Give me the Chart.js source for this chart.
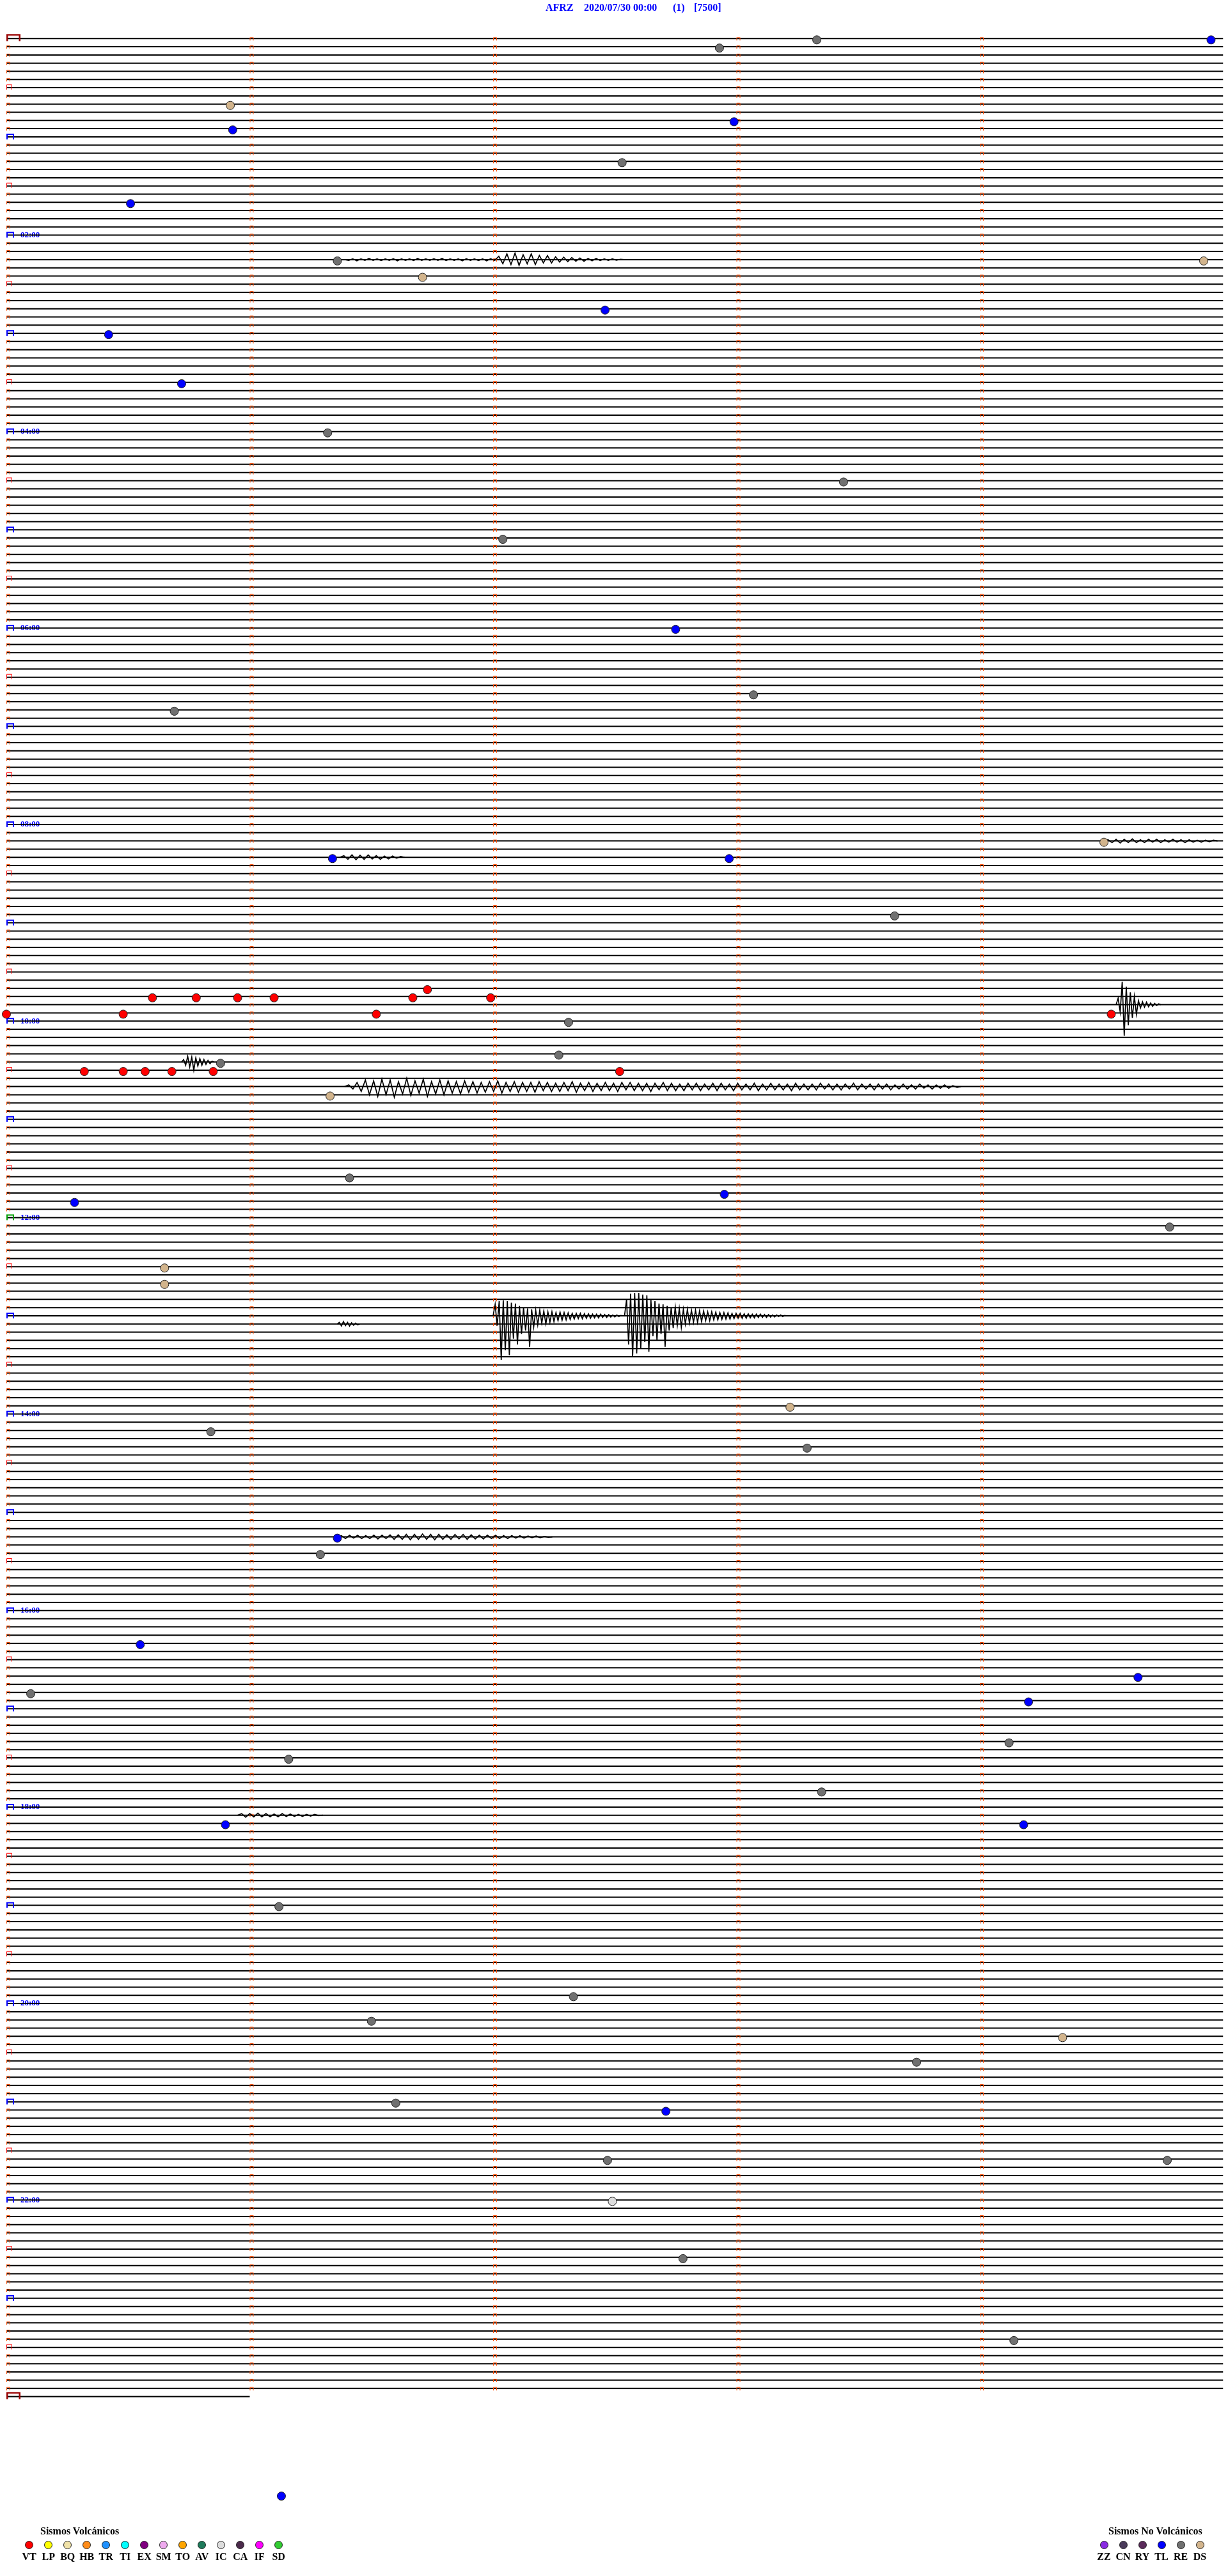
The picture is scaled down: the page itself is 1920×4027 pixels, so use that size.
<!DOCTYPE html>
<html>
<head>
<meta charset="utf-8">
<script src="https://cdn.jsdelivr.net/npm/chart.js@4.4.1/dist/chart.umd.min.js"></script>
<style>
  html, body { margin: 0; padding: 0; background: #fff; }
  #wrap { position: relative; width: 1920px; height: 4027px; overflow: hidden; }
  #heli { position: absolute; left: 0; top: 0; }
  .txt { position: absolute; font-family: "Liberation Serif", "Times New Roman", serif; font-weight: bold;
         font-size: 16px; line-height: 16px; white-space: nowrap; color: #000; }
  .head { color: #0000ff; }
  .lab { width: 30px; text-align: center; }
  .dot { position: absolute; width: 11px; height: 11px; border-radius: 50%; border: 1px solid #222; }
</style>
</head>
<body>
<div id="wrap">
  <canvas id="heli" width="1920" height="4027"></canvas>
</div>
<script>
// Header
const stationName = 'AFRZ';
const plotStart = '2020/07/30 00:00';
const plotGain = '(1)';
const plotScale = '[7500]';

// Helicorder layout: 5 minutes per trace, 00:00 to 24:01
const minutesPerLine = 5;
const recordMinutes = 1441;
const hourLabelMinutes = [120, 240, 360, 480, 600, 720, 840, 960, 1080, 1200, 1320];
const hourLabels = ['02:00', '04:00', '06:00', '08:00', '10:00', '12:00', '14:00', '16:00', '18:00', '20:00', '22:00'];

// Classified events (minutes after 00:00) and their type
const eventMinutes = [
  3.33, 4.95, 7.93, 40.92, 55.93, 52.99, 77.53, 100.51, 136.36, 139.92,
  146.71, 167.46, 180.42, 210.72, 241.32, 273.44, 307.04, 362.75, 403.07, 410.69,
  494.51, 501.34, 502.97, 538.65, 581.73, 585.60, 585.78, 585.95, 586.10, 586.67,
  586.99, 595.00, 595.48, 596.52, 599.54, 602.31, 622.27, 625.88, 630.32, 630.48,
  630.57, 630.68, 630.85, 632.52, 646.33, 696.41, 707.95, 710.28, 729.78, 750.65,
  760.65, 838.22, 850.84, 863.29, 916.36, 926.29, 980.55, 1004.65, 1010.10, 1019.20,
  1044.12, 1051.16, 1073.35, 1090.90, 1094.18, 1141.12, 1197.33, 1211.50, 1224.34, 1238.74,
  1261.60, 1267.71, 1297.47, 1299.77, 1322.49, 1357.78, 1409.14, 1501.13
];
const eventTypes = [
  'RE', 'TL', 'RE', 'DS', 'TL', 'TL', 'RE', 'TL', 'RE', 'DS',
  'DS', 'TL', 'TL', 'TL', 'RE', 'RE', 'RE', 'TL', 'RE', 'RE',
  'DS', 'TL', 'TL', 'RE', 'VT', 'VT', 'VT', 'VT', 'VT', 'VT',
  'VT', 'VT', 'VT', 'VT', 'VT', 'RE', 'RE', 'RE', 'VT', 'VT',
  'VT', 'VT', 'VT', 'VT', 'DS', 'RE', 'TL', 'TL', 'RE', 'DS',
  'DS', 'DS', 'RE', 'RE', 'TL', 'RE', 'TL', 'TL', 'RE', 'TL',
  'RE', 'RE', 'RE', 'TL', 'TL', 'RE', 'RE', 'RE', 'DS', 'RE',
  'RE', 'TL', 'RE', 'RE', 'IC', 'RE', 'RE', 'TL'
];

const waveL027 = [0, 0.1, -0.1, 0.15, -0.1, 0.1, -0.15, 0.1, -0.1, 0.12, -0.1, 0.1, -0.12, 0.15, -0.1, 0.1, -0.1, 0.12, -0.15, 0.1,
  -0.1, 0.1, -0.12, 0.1, -0.15, 0.12, -0.1, 0.1, -0.1, 0.15, -0.12, 0.1, -0.1, 0.12, -0.1, 0.15, -0.12, 0.1,
  -0.4, 0.5, -0.7, 0.6, -0.8, 0.7, -0.6, 0.5, -0.7, 0.6, -0.5, 0.4, -0.5, 0.4, -0.35,
  0.3, -0.3, 0.25, -0.25, 0.2, -0.2, 0.2, -0.15, 0.15, -0.15, 0.12, -0.1, 0.1, -0.1, 0.08, -0.05, 0];
const waveL098 = [0, -0.15, 0.2, -0.2, 0.25, -0.2, 0.2, -0.25, 0.2, -0.15, 0.2, -0.2, 0.15, -0.2, 0.2, -0.15, 0.15, -0.2, 0.15, -0.15,
  0.2, -0.15, 0.15, -0.1, 0.15, -0.1, 0.1, -0.1, 0];
const waveL100 = [0, -0.2, 0.25, -0.3, 0.3, -0.25, 0.25, -0.3, 0.2, -0.2, 0.25, -0.15, 0.2, -0.15, 0.1, -0.1, 0];
const waveL118 = [0, -0.8, 0.9, -2.8, 3.8, -2.2, 2.5, -1.5, 1.6, -1.0, 1.2, -0.5, 0.4, -0.35, 0.3, -0.3, 0.25, -0.2, 0.2, -0.15,
  0.1, -0.1, 0];
const waveL125 = [0, -0.3, 0.4, -0.7, 0.6, -0.6, 1.0, -0.5, 0.5, -0.4, 0.4, -0.3, 0.3, -0.2, 0.2, -0.1, 0];
const waveL128 = [0, -0.2, 0.3, -0.5, 0.6, -0.8, 1.0, -0.7, 1.2, -0.9, 1.0, -0.8, 1.3, -0.6, 0.9, -1.0, 1.1, -0.7, 0.8, -0.9,
  1.2, -0.6, 0.9, -0.8, 1.0, -0.7, 0.8, -0.6, 0.9, -0.7, 0.7, -0.6, 0.8, -0.5, 0.7, -0.6, 0.6, -0.7, 0.8, -0.5,
  0.6, -0.6, 0.7, -0.5, 0.6, -0.5, 0.7, -0.6, 0.5, -0.5, 0.6, -0.4, 0.6, -0.5, 0.5, -0.6, 0.7, -0.4, 0.5, -0.5,
  0.6, -0.4, 0.5, -0.5, 0.5, -0.4, 0.6, -0.5, 0.4, -0.5, 0.5, -0.4, 0.5, -0.4, 0.6, -0.4, 0.4, -0.5, 0.5, -0.4,
  0.5, -0.3, 0.5, -0.4, 0.4, -0.4, 0.5, -0.3, 0.4, -0.4, 0.5, -0.4, 0.4, -0.3, 0.5, -0.4, 0.4, -0.3, 0.4, -0.4,
  0.5, -0.3, 0.4, -0.4, 0.4, -0.3, 0.4, -0.3, 0.5, -0.4, 0.4, -0.3, 0.4, -0.3, 0.4, -0.4, 0.3, -0.3, 0.4, -0.3,
  0.4, -0.3, 0.3, -0.4, 0.4, -0.3, 0.3, -0.3, 0.4, -0.3, 0.3, -0.3, 0.4, -0.2, 0.3, -0.3, 0.3, -0.2, 0.3, -0.3,
  0.2, -0.2, 0.3, -0.2, 0.2, -0.2, 0.2, -0.1, 0.1, 0];
const waveL156a = [0, -1.4, 1.2, -1.8, 5.4, -1.9, 4.2, -1.8, 4.8, -1.6, 2.8, -1.5, 3.5, -1.2, 2.2, -1.0, 1.8, -0.9, 3.8, -0.8,
  1.4, -0.7, 1.1, -0.7, 0.9, -0.6, 1.0, -0.5, 0.8, -0.5, 0.7, -0.4, 0.6, -0.45, 0.55, -0.4, 0.5, -0.35, 0.45, -0.3,
  0.4, -0.3, 0.35, -0.3, 0.35, -0.25, 0.3, -0.25, 0.3, -0.2, 0.25, -0.2, 0.25, -0.2, 0.2, -0.15, 0.2, -0.15, 0.15, -0.1,
  0.15, -0.1, 0.1, -0.05, 0];
const waveL156b = [0, -2.0, 3.5, -2.7, 5.0, -2.8, 4.6, -2.8, 4.0, -2.6, 3.2, -2.5, 4.4, -2.0, 2.5, -1.8, 3.0, -1.5, 2.2, -1.4,
  3.8, -1.2, 1.8, -1.0, 1.5, -1.1, 1.2, -0.9, 1.4, -0.8, 1.0, -0.8, 0.9, -0.7, 0.8, -0.7, 0.8, -0.6, 0.7, -0.6,
  0.6, -0.5, 0.6, -0.5, 0.5, -0.45, 0.5, -0.4, 0.45, -0.4, 0.4, -0.35, 0.4, -0.3, 0.35, -0.3, 0.3, -0.3, 0.3, -0.25,
  0.3, -0.25, 0.25, -0.2, 0.25, -0.2, 0.2, -0.2, 0.2, -0.15, 0.2, -0.15, 0.15, -0.1, 0.15, -0.1, 0.1, -0.1, 0.1, -0.05, 0];
const waveL157 = [0, -0.2, 0.25, -0.3, 0.2, -0.2, 0.25, -0.15, 0.15, -0.1, 0.1, 0];
const waveL183 = [0, -0.15, 0.2, -0.2, 0.15, -0.2, 0.2, -0.15, 0.2, -0.2, 0.25, -0.2, 0.2, -0.25, 0.3, -0.25, 0.3, -0.3, 0.35, -0.3,
  0.3, -0.35, 0.3, -0.3, 0.35, -0.3, 0.3, -0.25, 0.3, -0.3, 0.25, -0.3, 0.3, -0.25, 0.25, -0.2, 0.25, -0.2, 0.2, -0.2,
  0.2, -0.15, 0.2, -0.15, 0.15, -0.15, 0.15, -0.1, 0.1, -0.1, 0.1, -0.05, 0.05, 0];
const waveL217 = [0, -0.2, 0.25, -0.2, 0.2, -0.25, 0.2, -0.2, 0.2, -0.15, 0.2, -0.2, 0.15, -0.15, 0.15, -0.1, 0.15, -0.1, 0.1, -0.1,
  0.05, 0];

const waveList = [waveL027, waveL098, waveL100, waveL118, waveL125, waveL128, waveL156a, waveL156b, waveL157, waveL183, waveL217];
const waveStartMinutes = [136.39, 494.51, 501.37, 594.56, 625.72, 641.39, 782.00, 782.54, 786.36, 916.36, 1085.95];
const waveStepSeconds = [1, 1, 1, 0.5, 0.5, 1.02, 0.5, 0.5, 0.5, 1, 1];

// Legend
const volcanicCodes = ['VT', 'LP', 'BQ', 'HB', 'TR', 'TI', 'EX', 'SM', 'TO', 'AV', 'IC', 'CA', 'IF', 'SD'];
const nonVolcanicCodes = ['ZZ', 'CN', 'RY', 'TL', 'RE', 'DS'];

// Styles
const typeColors = {
  VT: '#ff0000', LP: '#ffff00', BQ: '#f0e2a8', HB: '#ff8c1a', TR: '#1e90ff', TI: '#00ffff', EX: '#800080',
  SM: '#eeaaee', TO: '#ffa500', AV: '#1e7a5a', IC: '#dcdcdc', CA: '#4b2a4b', IF: '#ff00ff', SD: '#33cc33',
  ZZ: '#8a2be2', CN: '#4a3a5a', RY: '#5a2a5a', TL: '#0000ff', RE: '#707070', DS: '#d2b48c'
};
const firstTracePx = 53;
const lineSpacingPx = 12.847;
const canvasHeight = 4027;
const secondsPerLine = minutesPerLine * 60;

// Small timing brackets drawn on each trace
function makeBracket(w, top, bottom, color, lw) {
  const c = document.createElement('canvas');
  c.width = 2 * (w + 2);
  c.height = 2 * (Math.max(top, bottom) + 2);
  const ctx = c.getContext('2d');
  const x0 = c.width / 2, y0 = c.height / 2;
  const h = lw / 2;
  ctx.strokeStyle = color;
  ctx.lineWidth = lw;
  ctx.beginPath();
  ctx.moveTo(x0 + h, y0 + bottom);
  ctx.lineTo(x0 + h, y0 - top + h);
  ctx.lineTo(x0 + w - h, y0 - top + h);
  ctx.lineTo(x0 + w - h, y0 + bottom);
  ctx.stroke();
  return c;
}
const minuteStyle = makeBracket(6, 2, 3, '#ff4a00', 1);
const halfHourStyle = makeBracket(9, 5, 3, '#ff0000', 1);
const hourStyle = makeBracket(12, 5, 4, '#0000ff', 2);
const noonStyle = makeBracket(12, 5, 4, '#00a000', 2);
const dayStyle = makeBracket(22, 7, 4, '#990000', 2.5);

// Build traces and marks
const lineCount = Math.ceil(recordMinutes / minutesPerLine);
const traceData = [];
const minuteMarks = [], halfHourMarks = [], hourMarks = [], noonMarks = [], dayMarks = [];
for (let i = 0; i < lineCount; i++) {
  const end = Math.min(secondsPerLine, (recordMinutes - i * minutesPerLine) * 60);
  traceData.push({ x: 0, y: i }, { x: end, y: i }, { x: end, y: null });
  for (let s = 0; s < end; s += 60) {
    const m = i * minutesPerLine + s / 60;
    const p = { x: s, y: i };
    if (s > 0) minuteMarks.push(p);
    else if (m % 1440 === 0) dayMarks.push(p);
    else if (m === 720) noonMarks.push(p);
    else if (m % 60 === 0) hourMarks.push(p);
    else if (m % 30 === 0) halfHourMarks.push(p);
    else minuteMarks.push(p);
  }
}

const waveData = [];
waveList.forEach((vals, k) => {
  const line = Math.floor(waveStartMinutes[k] / minutesPerLine);
  const s0 = (waveStartMinutes[k] - line * minutesPerLine) * 60;
  vals.forEach((v, j) => waveData.push({ x: s0 + j * waveStepSeconds[k], y: line + v }));
  waveData.push({ x: s0, y: null });
});

const eventData = eventMinutes.map(m => {
  const line = Math.floor(m / minutesPerLine);
  return { x: (m - line * minutesPerLine) * 60, y: line + 0.16 };
});
const eventFill = eventTypes.map(t => typeColors[t]);

const yMin = -firstTracePx / lineSpacingPx;
const yMax = yMin + canvasHeight / lineSpacingPx;

function markSet(data, style) {
  return { type: 'scatter', data: data, pointStyle: style, pointRadius: 6, showLine: false, order: 2, clip: false };
}

new Chart(document.getElementById('heli').getContext('2d'), {
  type: 'scatter',
  data: {
    datasets: [
      { data: eventData, pointRadius: 6.5, pointBackgroundColor: eventFill, pointBorderColor: '#222',
        pointBorderWidth: 1, showLine: false, order: 0, clip: false },
      { data: waveData, showLine: true, borderColor: '#000', borderWidth: 1.7, pointRadius: 0, spanGaps: false, order: 1 },
      markSet(minuteMarks, minuteStyle),
      markSet(halfHourMarks, halfHourStyle),
      markSet(hourMarks, hourStyle),
      markSet(noonMarks, noonStyle),
      markSet(dayMarks, dayStyle),
      { data: traceData, showLine: true, borderColor: '#000', borderWidth: 2, pointRadius: 0, spanGaps: false, order: 3 }
    ]
  },
  options: {
    responsive: false,
    devicePixelRatio: 1,
    animation: false,
    events: [],
    layout: { padding: { left: 10, right: 7, top: 0, bottom: 0 } },
    plugins: { legend: { display: false }, tooltip: { enabled: false } },
    scales: {
      x: { type: 'linear', min: 0, max: secondsPerLine, display: false },
      y: {
        type: 'linear',
        reverse: true,
        min: yMin,
        max: yMax,
        grid: { display: false, drawTicks: false },
        border: { display: false },
        afterBuildTicks: axis => { axis.ticks = hourLabelMinutes.map(m => ({ value: m / minutesPerLine })); },
        afterFit: axis => { axis.width = 0; axis.paddingTop = 0; axis.paddingBottom = 0; },
        ticks: {
          mirror: true,
          padding: 22,
          autoSkip: false,
          color: '#0000ff',
          font: { family: '"Liberation Serif", "Times New Roman", serif', size: 13, weight: 'bold' },
          callback: (v, i) => hourLabels[i]
        }
      }
    }
  }
});

// Header and legend as page text
const wrap = document.getElementById('wrap');
function addText(text, left, top, cls) {
  const d = document.createElement('div');
  d.className = 'txt ' + (cls || '');
  d.textContent = text;
  d.style.left = left + 'px';
  d.style.top = top + 'px';
  wrap.appendChild(d);
  return d;
}
function addDot(color, cx, cy) {
  const d = document.createElement('div');
  d.className = 'dot';
  d.style.background = color;
  d.style.left = (cx - 6.5) + 'px';
  d.style.top = (cy - 6.5) + 'px';
  wrap.appendChild(d);
}
[stationName, plotStart, plotGain, plotScale].forEach((t, k) => addText(t, [853, 913, 1052, 1085][k], 4, 'head'));

addText('Sismos Volcánicos', 63, 3949);
volcanicCodes.forEach((c, k) => {
  addDot(typeColors[c], 45.7 + 30 * k, 3978);
  addText(c, 45.7 + 30 * k - 15, 3989, 'lab');
});
addText('Sismos No Volcánicos', 1733, 3949);
nonVolcanicCodes.forEach((c, k) => {
  addDot(typeColors[c], 1726 + 30 * k, 3978);
  addText(c, 1726 + 30 * k - 15, 3989, 'lab');
});
</script>
</body>
</html>
